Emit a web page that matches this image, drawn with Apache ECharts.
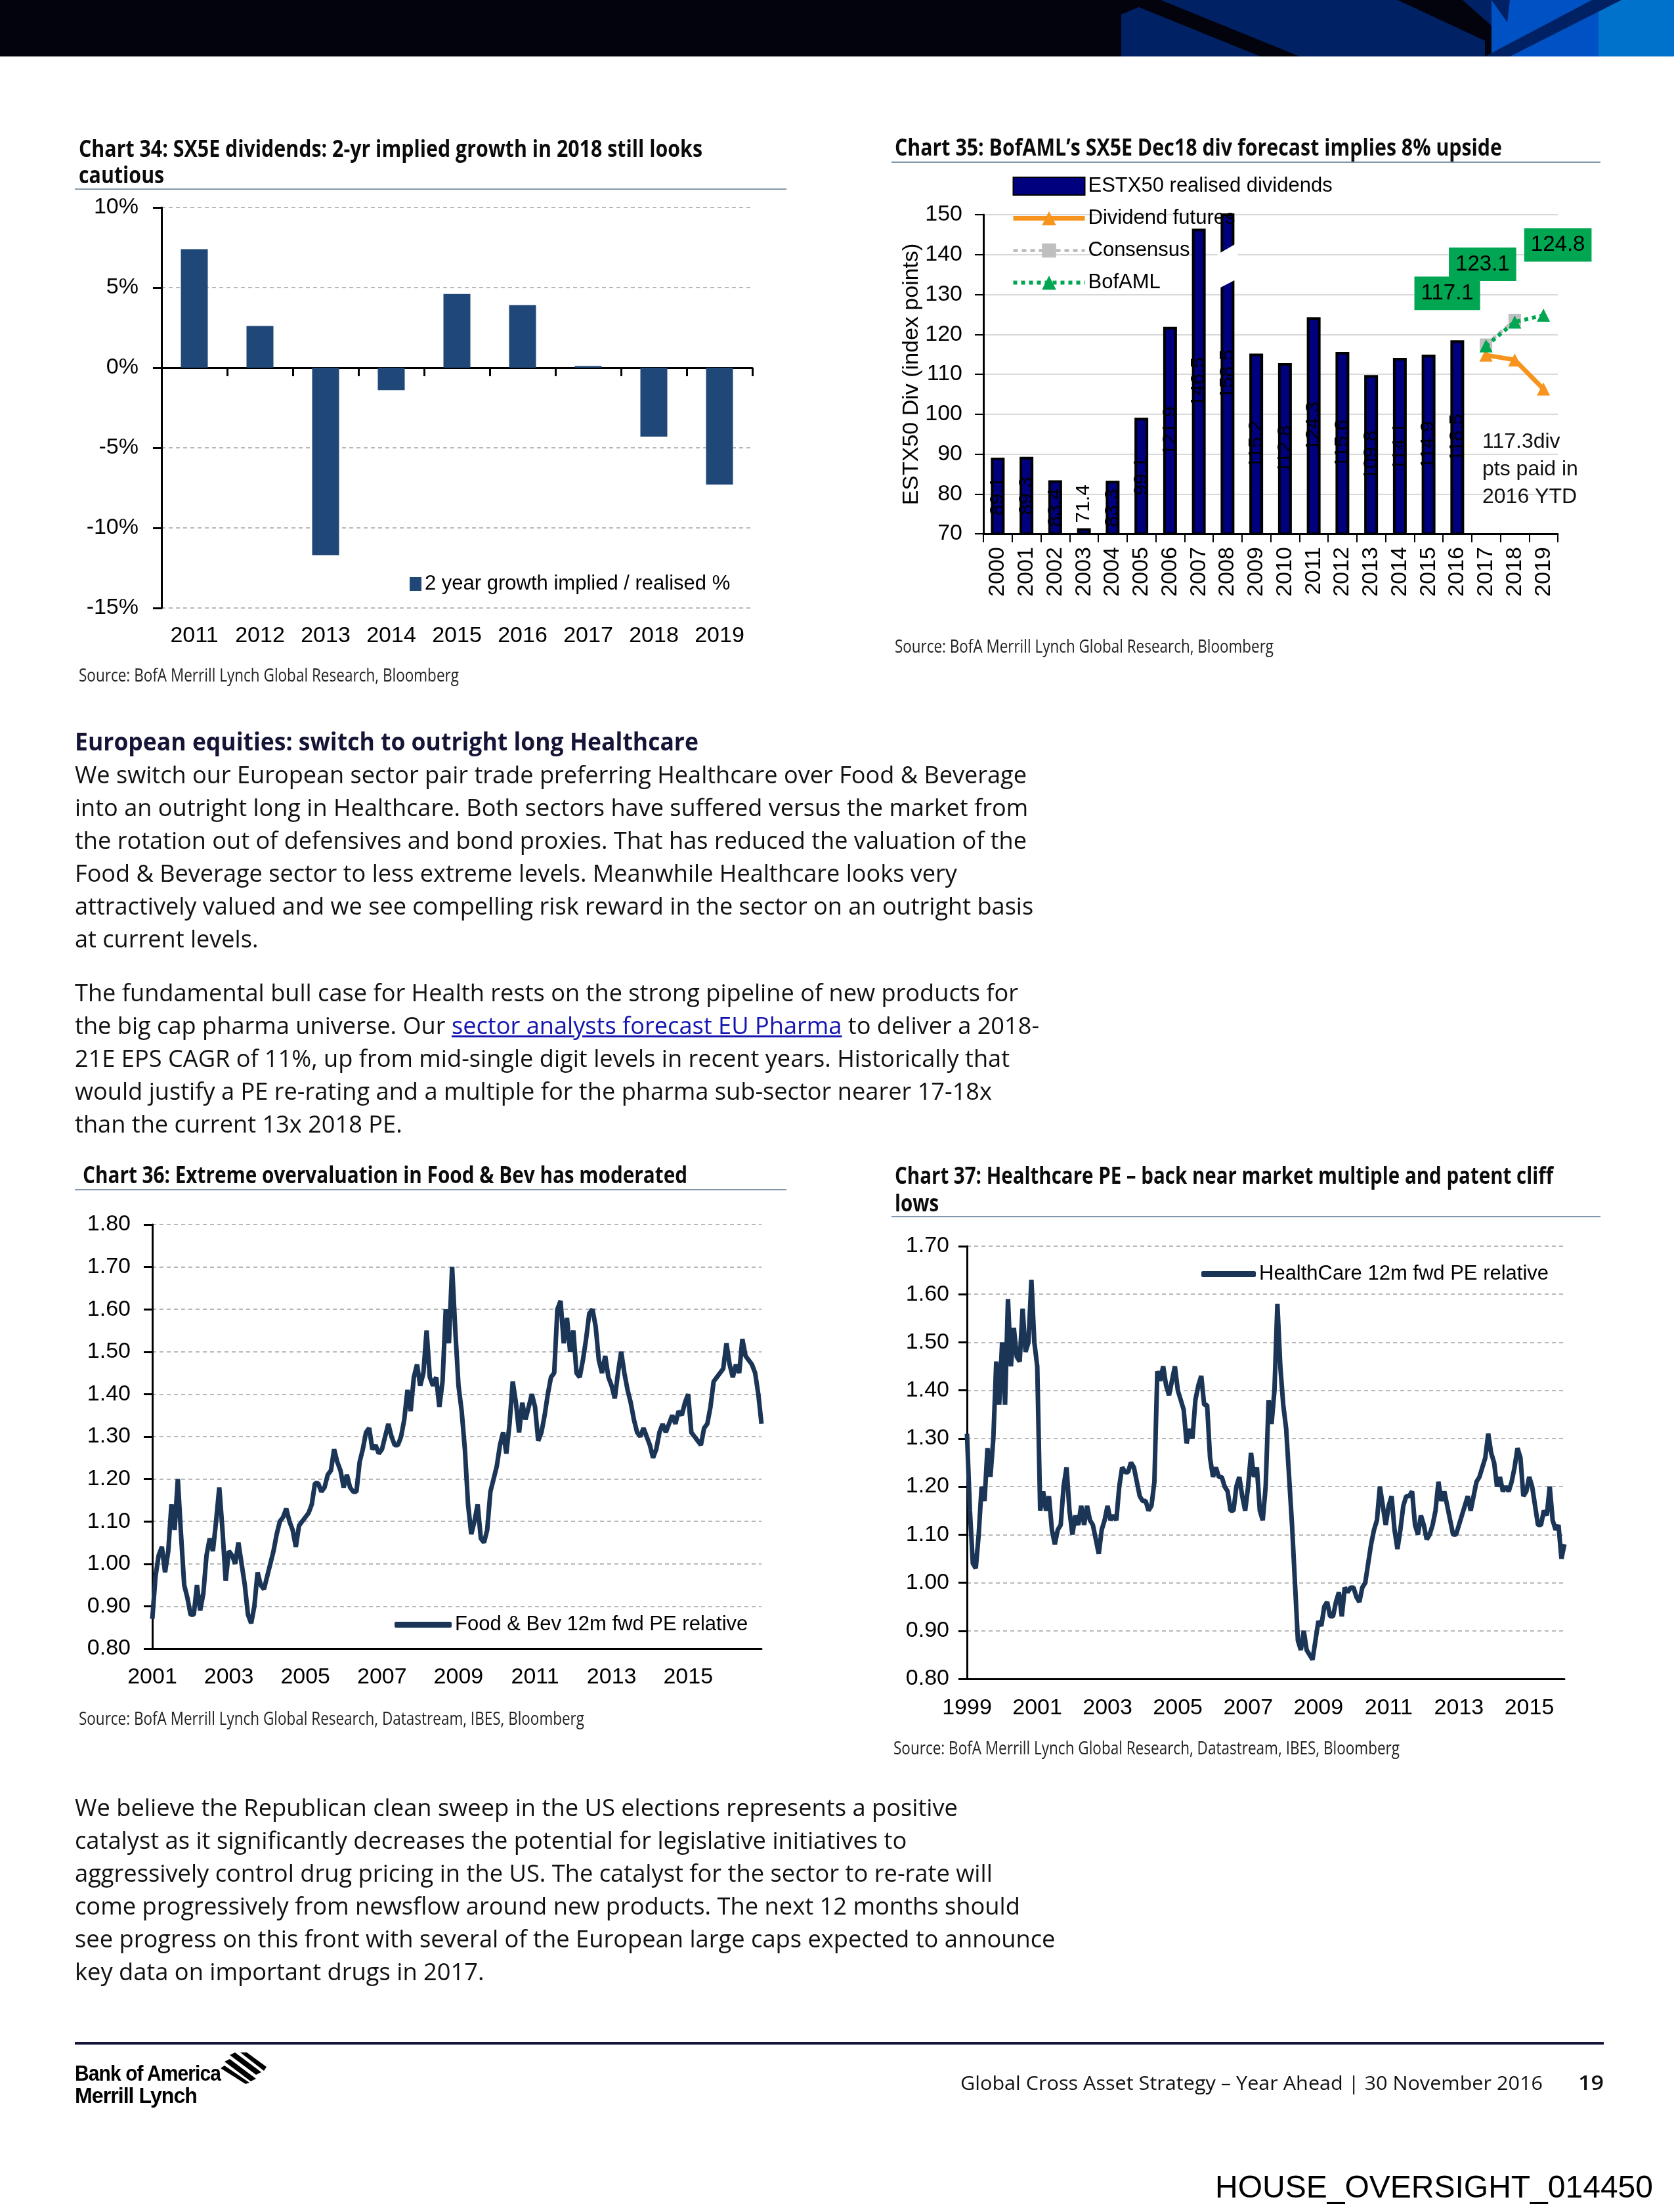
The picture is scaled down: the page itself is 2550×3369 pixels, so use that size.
<!DOCTYPE html>
<html><head><meta charset="utf-8">
<script src="https://cdn.jsdelivr.net/npm/echarts@6/dist/echarts.min.js"></script>
<style>
html,body{margin:0;padding:0;background:#fff;}
#page{position:relative;width:2550px;height:3369px;overflow:hidden;background:#fff;}
#chart{position:absolute;left:0;top:0;width:2550px;height:3369px;}
.t{position:absolute;white-space:nowrap;transform-origin:0 50%;color:#111;}
.body{font-family:'Open Sans',sans-serif;font-size:37px;line-height:50px;}
.ttl{font-family:'Open Sans',sans-serif;font-weight:700;font-size:35px;line-height:40px;color:#0b0b0b;}
.src{font-family:'Open Sans',sans-serif;font-size:28px;line-height:34px;color:#222;}
.rule{position:absolute;height:2px;background:#8397ab;}
a{color:#1515b0;text-decoration:underline;}
</style></head>
<body><div id="page">
<div id="chart"></div>

<svg style="position:absolute;left:0;top:0" width="2550" height="86">
<rect x="0" y="0" width="2550" height="86" fill="#03030e"/>
<rect x="1708" y="0" width="564" height="86" fill="#002163"/>
<polygon points="1708,0 1768,0 1980,86 1920,86" fill="#03030e"/>
<polygon points="1708,0 1760,0 1708,22" fill="#03030e"/>
<polygon points="2129,0 2228,0 2273,40 2273,86 2262,86 2262,62" fill="#03030e"/>
<rect x="2272" y="0" width="163" height="86" fill="#0052c4"/>
<rect x="2435" y="0" width="115" height="86" fill="#0072cc"/>
<polygon points="2272,0 2300,0 2296,34" fill="#002163"/>
<polygon points="2425,0 2470,0 2300,86 2262,86" fill="#002163"/>
</svg>

<div class="t ttl" data-w="950" style="left:120px;top:206px;"><span class="m">Chart 34: SX5E dividends: 2-yr implied growth in 2018 still looks</span><br>cautious</div>
<div class="rule" style="left:114px;top:287px;width:1084px;"></div>
<div class="t ttl" data-w="925" style="left:1363px;top:204px;"><span class="m">Chart 35: BofAML’s SX5E Dec18 div forecast implies 8% upside</span></div>
<div class="rule" style="left:1358px;top:246px;width:1080px;"></div>
<div class="t src" data-w="579" style="left:120px;top:1010px;">Source: BofA Merrill Lynch Global Research, Bloomberg</div>
<div class="t src" data-w="577" style="left:1363px;top:966px;">Source: BofA Merrill Lynch Global Research, Bloomberg</div>

<div class="t body" data-w="950" style="left:114px;top:1103px;font-weight:700;font-size:38px;color:#141437;">European equities: switch to outright long Healthcare</div>
<div class="t body" data-w="1450" style="left:114px;top:1154px;"><span class="m">We switch our European sector pair trade preferring Healthcare over Food &amp; Beverage</span><br>into an outright long in Healthcare. Both sectors have suffered versus the market from<br>the rotation out of defensives and bond proxies. That has reduced the valuation of the<br>Food &amp; Beverage sector to less extreme levels. Meanwhile Healthcare looks very<br>attractively valued and we see compelling risk reward in the sector on an outright basis<br>at current levels.</div>
<div class="t body" data-w="1437" style="left:114px;top:1486px;"><span class="m">The fundamental bull case for Health rests on the strong pipeline of new products for</span><br>the big cap pharma universe. Our <a>sector analysts forecast EU Pharma</a> to deliver a 2018-<br>21E EPS CAGR of 11%, up from mid-single digit levels in recent years. Historically that<br>would justify a PE re-rating and a multiple for the pharma sub-sector nearer 17-18x<br>than the current 13x 2018 PE.</div>

<div class="t ttl" data-w="921" style="left:126px;top:1769px;"><span class="m">Chart 36: Extreme overvaluation in Food &amp; Bev has moderated</span></div>
<div class="rule" style="left:114px;top:1811px;width:1084px;"></div>
<div class="t ttl" data-w="1003" style="left:1363px;top:1769px;line-height:42px;"><span class="m">Chart 37: Healthcare PE – back near market multiple and patent cliff</span><br>lows</div>
<div class="rule" style="left:1358px;top:1852px;width:1080px;"></div>
<div class="t src" data-w="770" style="left:120px;top:2599px;">Source: BofA Merrill Lynch Global Research, Datastream, IBES, Bloomberg</div>
<div class="t src" data-w="771" style="left:1361px;top:2644px;">Source: BofA Merrill Lynch Global Research, Datastream, IBES, Bloomberg</div>

<div class="t body" data-w="1345" style="left:114px;top:2727px;"><span class="m">We believe the Republican clean sweep in the US elections represents a positive</span><br>catalyst as it significantly decreases the potential for legislative initiatives to<br>aggressively control drug pricing in the US. The catalyst for the sector to re-rate will<br>come progressively from newsflow around new products. The next 12 months should<br>see progress on this front with several of the European large caps expected to announce<br>key data on important drugs in 2017.</div>

<div style="position:absolute;left:114px;top:3110px;width:2329px;height:4px;background:#14143c;"></div>
<div class="t" data-w="222" style="left:114px;top:3140px;font-family:'Liberation Sans',Arial,sans-serif;font-weight:700;font-size:34px;line-height:34px;color:#000;letter-spacing:-1px;">Bank of America</div>
<div class="t" data-w="186" style="left:114px;top:3174px;font-family:'Liberation Sans',Arial,sans-serif;font-weight:700;font-size:34px;line-height:34px;color:#000;letter-spacing:-1px;">Merrill Lynch</div>
<svg style="position:absolute;left:336px;top:3126px" width="80" height="48">
<polygon points="14,4 22,0 62,30 54,34" fill="#000"/>
<polygon points="6,14 14,10 54,40 46,44" fill="#000"/>
<polygon points="0,24 6,20 44,46 38,48" fill="#000"/>
<polygon points="30,0 40,0 70,22 66,28" fill="#000"/>
</svg>
<div class="t src" data-w="887" style="left:1463px;top:3155px;font-size:29px;color:#111;">Global Cross Asset Strategy – Year Ahead | 30 November 2016</div>
<div class="t src" data-w="39" style="left:2404px;top:3155px;font-size:30px;font-weight:600;color:#111;">19</div>
<div class="t" data-w="667" style="left:1851px;top:3303px;font-family:'Liberation Sans',Arial,sans-serif;font-size:48px;line-height:56px;color:#000;">HOUSE_OVERSIGHT_014450</div>
</div>

<script>
// ---------- Chart 34 data ----------
const years34 = ['2011','2012','2013','2014','2015','2016','2017','2018','2019'];
const growth34 = [7.4, 2.6, -11.7, -1.4, 4.6, 3.9, 0.1, -4.3, -7.3];

// ---------- Chart 35 data ----------
const years35 = ['2000','2001','2002','2003','2004','2005','2006','2007','2008','2009','2010','2011','2012','2013','2014','2015','2016','2017','2018','2019'];
const realised35 = [89.1, 89.3, 83.4, 71.4, 83.3, 99.1, 121.9, 146.5, 158.5, 115.2, 112.8, 124.3, 115.6, 109.8, 114.1, 114.9, 118.5, null, null, null];
const futures35 = [null,null,null,null,null,null,null,null,null,null,null,null,null,null,null,null,null, 114.8, 113.6, 106.3];
const consensus35 = [null,null,null,null,null,null,null,null,null,null,null,null,null,null,null,null,null, 117.4, 123.6, null];
const bofaml35 = [null,null,null,null,null,null,null,null,null,null,null,null,null,null,null,null,null, 117.1, 123.1, 124.8];
// axis break drawn on the 2008 bar: category, left-top, left-bottom, right-top, right-bottom
const break2008 = ['2008', 140.0, 131.3, 143.0, 134.0];
const note35 = '117.3div\npts paid in\n2016 YTD';

// ---------- Chart 36 data (monthly, from Dec 2000) ----------
const fbTicks36 = ['2001','2003','2005','2007','2009','2011','2013','2015'];
const fb36 = [
0.87,0.97,1.02,1.04,0.98,1.03,1.14,1.08,1.20,1.07,0.95,0.92,
0.88,0.88,0.95,0.89,0.93,1.02,1.06,1.03,1.10,1.18,1.08,0.96,
1.03,1.02,1.00,1.05,1.00,0.95,0.88,0.86,0.90,0.98,0.95,0.94,
0.97,1.00,1.03,1.07,1.10,1.11,1.13,1.10,1.08,1.04,1.09,1.10,
1.11,1.12,1.14,1.19,1.19,1.17,1.18,1.21,1.22,1.27,1.24,1.22,
1.18,1.21,1.18,1.17,1.17,1.24,1.27,1.31,1.32,1.27,1.28,1.26,
1.27,1.30,1.33,1.30,1.28,1.28,1.30,1.34,1.41,1.36,1.44,1.47,
1.42,1.45,1.55,1.44,1.42,1.44,1.37,1.43,1.60,1.52,1.70,1.55,
1.42,1.36,1.27,1.14,1.07,1.10,1.14,1.06,1.05,1.08,1.17,1.20,
1.23,1.28,1.31,1.26,1.33,1.43,1.38,1.31,1.38,1.34,1.37,1.40,
1.37,1.29,1.31,1.35,1.40,1.44,1.45,1.60,1.62,1.52,1.58,1.50,
1.55,1.45,1.44,1.48,1.53,1.59,1.60,1.56,1.48,1.45,1.49,1.44,
1.42,1.39,1.45,1.50,1.45,1.41,1.38,1.34,1.31,1.30,1.32,1.30,
1.28,1.25,1.27,1.31,1.33,1.31,1.33,1.35,1.33,1.36,1.35,1.38,
1.40,1.31,1.30,1.29,1.28,1.32,1.33,1.37,1.43,1.44,1.45,1.46,
1.52,1.47,1.44,1.47,1.45,1.53,1.49,1.48,1.47,1.45,1.40,1.33];

// ---------- Chart 37 data (monthly, from Nov 1999) ----------
const hcTicks37 = ['1999','2001','2003','2005','2007','2009','2011','2013','2015'];
const hc37 = [
1.31,1.15,1.04,1.03,1.10,1.20,1.17,1.28,1.22,1.30,1.46,1.37,
1.50,1.37,1.59,1.45,1.53,1.47,1.46,1.57,1.48,1.50,1.63,1.50,
1.45,1.15,1.19,1.15,1.18,1.11,1.08,1.11,1.12,1.20,1.24,1.15,
1.10,1.14,1.12,1.16,1.12,1.16,1.13,1.12,1.09,1.06,1.11,1.13,
1.16,1.13,1.14,1.13,1.20,1.24,1.23,1.23,1.25,1.24,1.21,1.18,
1.17,1.17,1.15,1.16,1.21,1.44,1.42,1.45,1.41,1.39,1.42,1.45,
1.40,1.38,1.36,1.29,1.32,1.30,1.38,1.41,1.43,1.37,1.37,1.26,
1.22,1.24,1.22,1.22,1.20,1.19,1.15,1.15,1.20,1.22,1.18,1.15,
1.20,1.27,1.22,1.24,1.15,1.13,1.20,1.38,1.33,1.40,1.58,1.45,
1.37,1.32,1.22,1.12,1.00,0.88,0.86,0.90,0.86,0.85,0.84,0.88,
0.92,0.91,0.95,0.96,0.93,0.93,0.96,0.98,0.93,0.99,0.98,0.99,
0.99,0.97,0.96,0.99,1.00,1.04,1.08,1.11,1.13,1.20,1.16,1.12,
1.16,1.18,1.11,1.07,1.11,1.16,1.18,1.18,1.19,1.12,1.10,1.14,
1.12,1.09,1.10,1.12,1.15,1.21,1.17,1.19,1.16,1.13,1.10,1.10,
1.12,1.14,1.16,1.18,1.15,1.18,1.21,1.22,1.24,1.26,1.31,1.27,
1.25,1.20,1.22,1.19,1.20,1.19,1.21,1.24,1.28,1.26,1.18,1.19,
1.22,1.20,1.16,1.12,1.12,1.15,1.14,1.20,1.13,1.11,1.12,1.05,1.08];

// ---------- styling ----------
const FONT = "'Liberation Sans',Arial,sans-serif";
const FS = 34;
const BLACK_AXIS = {color:'#000', width:3};
const bofamlLabelOffsets = {17:[-59,-80], 18:[-49,-88], 19:[22,-107]};
const legendText = {fontSize:31, color:'#000', fontFamily:FONT};

function renderBreak(params, api){
  const c = api.value(0);
  const bw = api.size([1,0])[0];
  const half = bw*0.36;
  const cx = api.coord([c, api.value(1)])[0];
  const y = v => api.coord([c, v])[1];
  return {type:'polygon', shape:{points:[[cx-half,y(api.value(1))],[cx+half,y(api.value(3))],[cx+half,y(api.value(4))],[cx-half,y(api.value(2))]]}, style:{fill:'#fff'}};
}

const chart = echarts.init(document.getElementById('chart'), null, {renderer:'canvas'});
const option = {
  animation:false,
  backgroundColor:'transparent',
  textStyle:{fontFamily:FONT, color:'#000'},
  grid:[
    {left:246, top:316, width:900, height:610},
    {left:1498, top:327, width:875, height:486},
    {left:232, top:1865, width:928, height:646},
    {left:1473, top:1898, width:910, height:659}
  ],
  legend:[
    {data:['2 year growth implied / realised %'], left:619, top:869, icon:'rect', itemWidth:18, itemHeight:21, selectedMode:false,
     textStyle:legendText},
    {data:[
       {name:'ESTX50 realised dividends', icon:'rect'},
       {name:'Dividend futures', lineStyle:{width:7}},
       {name:'Consensus', lineStyle:{width:5}},
       {name:'BofAML', lineStyle:{width:6}}],
     orient:'vertical', left:1535, top:263, itemWidth:109, itemHeight:27, itemGap:18, selectedMode:false, textStyle:legendText},
    {data:['Food & Bev 12m fwd PE relative'], left:596, top:2454, icon:'roundRect', itemWidth:87, itemHeight:9, selectedMode:false,
     itemStyle:{color:'#1b3557'}, textStyle:legendText},
    {data:['HealthCare 12m fwd PE relative'], left:1825, top:1920, icon:'roundRect', itemWidth:83, itemHeight:9, selectedMode:false,
     itemStyle:{color:'#1b3557'}, textStyle:legendText}
  ],
  xAxis:[
    {gridIndex:0, type:'category', data:years34, axisLine:{show:false, onZero:false}, axisTick:{show:false},
     axisLabel:{fontSize:FS, color:'#000', margin:26, interval:0}},
    {gridIndex:0, type:'category', data:years34, position:'bottom',
     axisLine:{show:true, onZero:true, onZeroAxisIndex:0, lineStyle:BLACK_AXIS},
     axisTick:{show:true, length:13, lineStyle:BLACK_AXIS}, axisLabel:{show:false}},
    {gridIndex:1, type:'category', data:years35, axisLine:{lineStyle:BLACK_AXIS},
     axisTick:{show:true, interval:0, length:13, lineStyle:{color:'#000', width:2}},
     axisLabel:{rotate:90, fontSize:FS, color:'#000', margin:20, interval:0}},
    {gridIndex:2, type:'value', min:0, max:fb36.length-1, interval:24,
     axisLine:{onZero:false, lineStyle:BLACK_AXIS}, axisTick:{show:false}, splitLine:{show:false},
     axisLabel:{fontSize:FS, color:'#000', margin:27, showMaxLabel:false,
       formatter:v => (v % 24 === 0 && fbTicks36[v/24]) ? fbTicks36[v/24] : ''}},
    {gridIndex:3, type:'value', min:0, max:hc37.length-1, interval:24,
     axisLine:{onZero:false, lineStyle:BLACK_AXIS}, axisTick:{show:false}, splitLine:{show:false},
     axisLabel:{fontSize:FS, color:'#000', margin:28, showMaxLabel:false,
       formatter:v => (v % 24 === 0 && hcTicks37[v/24]) ? hcTicks37[v/24] : ''}}
  ],
  yAxis:[
    {gridIndex:0, type:'value', min:-15, max:10, interval:5,
     axisLine:{show:true, onZero:false, lineStyle:BLACK_AXIS}, axisTick:{show:true, length:13, lineStyle:BLACK_AXIS},
     axisLabel:{fontSize:FS, color:'#000', margin:35, formatter:'{value}%'},
     splitLine:{show:true, lineStyle:{color:'#b8b8b8', width:2, type:[6,5]}}},
    {gridIndex:1, type:'value', min:70, max:150, interval:10,
     name:'ESTX50 Div (index points)', nameLocation:'middle', nameRotate:90, nameGap:88,
     nameTextStyle:{fontSize:FS, color:'#000', fontFamily:FONT},
     axisLine:{show:true, onZero:false, lineStyle:BLACK_AXIS}, axisTick:{show:true, length:13, lineStyle:{color:'#000', width:2}},
     axisLabel:{fontSize:FS, color:'#000', margin:32},
     splitLine:{show:true, lineStyle:{color:'#d9d9d9', width:2}}},
    {gridIndex:2, type:'value', min:0.8, max:1.8, interval:0.1,
     axisLine:{show:true, onZero:false, lineStyle:BLACK_AXIS}, axisTick:{show:true, length:13, lineStyle:BLACK_AXIS},
     axisLabel:{fontSize:FS, color:'#000', margin:33, formatter:v => v.toFixed(2)},
     splitLine:{show:true, lineStyle:{color:'#b8b8b8', width:2, type:[6,5]}}},
    {gridIndex:3, type:'value', min:0.8, max:1.7, interval:0.1,
     axisLine:{show:true, onZero:false, lineStyle:BLACK_AXIS}, axisTick:{show:true, length:13, lineStyle:BLACK_AXIS},
     axisLabel:{fontSize:FS, color:'#000', margin:27, formatter:v => v.toFixed(2)},
     splitLine:{show:true, lineStyle:{color:'#b8b8b8', width:2, type:[6,5]}}}
  ],
  graphic:[
    {type:'text', left:2258, top:652, z:10, style:{text:note35, fill:'#111', font:"32px 'Liberation Sans',Arial,sans-serif", lineHeight:42}}
  ],
  series:[
    {type:'bar', name:'2 year growth implied / realised %', xAxisIndex:0, yAxisIndex:0, data:growth34,
     barWidth:'41%', itemStyle:{color:'#1f4777'}},
    {type:'bar', name:'ESTX50 realised dividends', xAxisIndex:2, yAxisIndex:1, barWidth:'48%',
     data:realised35.map(v => v == null ? null : (v < 75 ? {value:v, label:{position:'top', rotate:90, align:'left', verticalAlign:'middle', distance:8}} : v)),
     itemStyle:{color:'#00007f', borderColor:'#000', borderWidth:4},
     label:{show:true, position:'inside', rotate:90, color:'#000', fontSize:30, fontFamily:FONT}},
    {type:'custom', xAxisIndex:2, yAxisIndex:1, data:[break2008], renderItem:renderBreak, z:5, silent:true},
    {type:'line', name:'Dividend futures', xAxisIndex:2, yAxisIndex:1, data:futures35, symbol:'triangle', symbolSize:20,
     color:'#f7941d', itemStyle:{color:'#f7941d'}, lineStyle:{width:7, color:'#f7941d'}, z:6},
    {type:'line', name:'Consensus', xAxisIndex:2, yAxisIndex:1, data:consensus35, symbol:'rect', symbolSize:19,
     color:'#bfbfbf', itemStyle:{color:'#bfbfbf'}, lineStyle:{width:5, color:'#bfbfbf', type:[7,6]}, z:7},
    {type:'line', name:'BofAML', xAxisIndex:2, yAxisIndex:1, symbol:'triangle', symbolSize:20,
     data:bofaml35.map((v,i) => v == null ? null : {value:v, label:{offset:bofamlLabelOffsets[i]}}),
     color:'#00a651', itemStyle:{color:'#00a651'}, lineStyle:{width:6, color:'#00a651', type:'dotted'}, z:8,
     label:{show:true, position:'inside', backgroundColor:'#00a651', color:'#000', fontSize:33, fontFamily:FONT,
       padding:[10,10,8,10], formatter:p => Number(p.value).toFixed(1)}},
    {type:'line', name:'Food & Bev 12m fwd PE relative', xAxisIndex:3, yAxisIndex:2, data:fb36.map((v,i)=>[i,v]),
     symbol:'none', color:'#1b3557', lineStyle:{width:7, color:'#1b3557'}},
    {type:'line', name:'HealthCare 12m fwd PE relative', xAxisIndex:4, yAxisIndex:3, data:hc37.map((v,i)=>[i,v]),
     symbol:'none', color:'#1b3557', lineStyle:{width:7, color:'#1b3557'}}
  ]
};
chart.setOption(option);

function fitAll(){
  document.querySelectorAll('[data-w]').forEach(el => {
    el.style.transform = 'none';
    const m = el.querySelector('.m') || el;
    const w = m.getBoundingClientRect().width;
    if (w > 0) el.style.transform = 'scaleX(' + (parseFloat(el.dataset.w) / w) + ')';
  });
}
fitAll();
if (document.fonts && document.fonts.ready) document.fonts.ready.then(fitAll);
window.addEventListener('load', fitAll);
</script>
</body></html>
